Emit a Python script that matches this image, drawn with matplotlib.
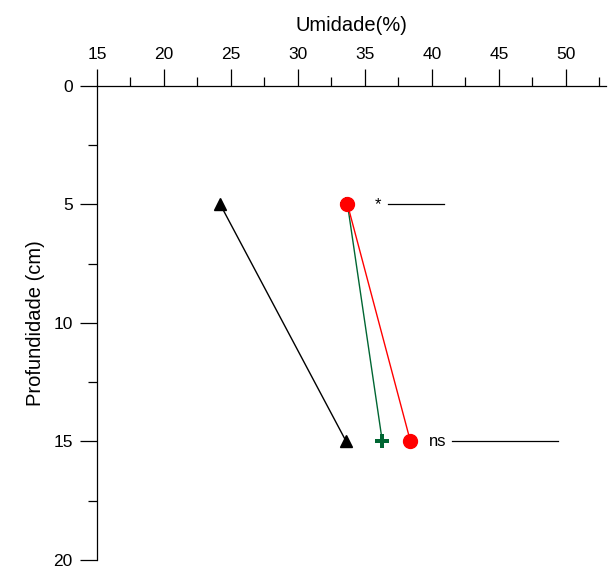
import matplotlib.pyplot as plt

plt.rcParams['font.family'] = ['Liberation Sans', 'DejaVu Sans']

# depths (cm) and moisture (%) per treatment
depth = [5, 15]
black_umid = [24.2, 33.6]
red_umid = [33.7, 38.4]
green_umid = [33.7, 36.3]

# significance annotations: label x, line start, line end, depth
sig_labels = ['*', 'ns']
sig_text_x = [35.7, 39.8]
sig_line_x0 = [36.7, 41.5]
sig_line_x1 = [40.9, 49.4]

fig = plt.figure(figsize=(6.14, 5.69), dpi=100)
ax = fig.add_axes([0.158, 0.016, 0.829, 0.833])

ax.plot(black_umid, depth, color='black', lw=1, marker='^', ms=9, zorder=3)
ax.plot(green_umid, depth, color='#006633', lw=1, marker='P', ms=10, zorder=4,
        markeredgewidth=0)
ax.plot(red_umid, depth, color='red', lw=1, marker='o', ms=10, zorder=5)

for lab, tx, x0, x1, d in zip(sig_labels, sig_text_x, sig_line_x0, sig_line_x1, depth):
    ax.text(tx, d, lab, fontsize=12, va='center', ha='left')
    ax.plot([x0, x1], [d, d], color='black', lw=0.9)

ax.set_xlim(15, 53)
ax.set_ylim(20, 0)
ax.set_xticks(range(15, 51, 5))
ax.set_xticks([17.5 + 5 * i for i in range(8)], minor=True)
ax.set_yticks(range(0, 21, 5))
ax.set_yticks([2.5, 7.5, 12.5, 17.5], minor=True)

ax.xaxis.tick_top()
ax.xaxis.set_label_position('top')
ax.spines['right'].set_visible(False)
ax.spines['bottom'].set_visible(False)
ax.spines['top'].set_linewidth(0.9)
ax.spines['left'].set_linewidth(0.9)

ax.tick_params(which='major', length=12.5, width=0.9, labelsize=12.5, direction='out')
ax.tick_params(which='minor', length=6.5, width=0.9, direction='out')
ax.tick_params(axis='x', which='both', top=True, bottom=False, pad=5)
ax.tick_params(axis='y', which='both', left=True, right=False, pad=5)

ax.set_xlabel('Umidade(%)', fontsize=14.5, labelpad=11)
ax.set_ylabel('Profundidade (cm)', fontsize=14.5, labelpad=6)

fig.savefig('out.png', dpi=100)
